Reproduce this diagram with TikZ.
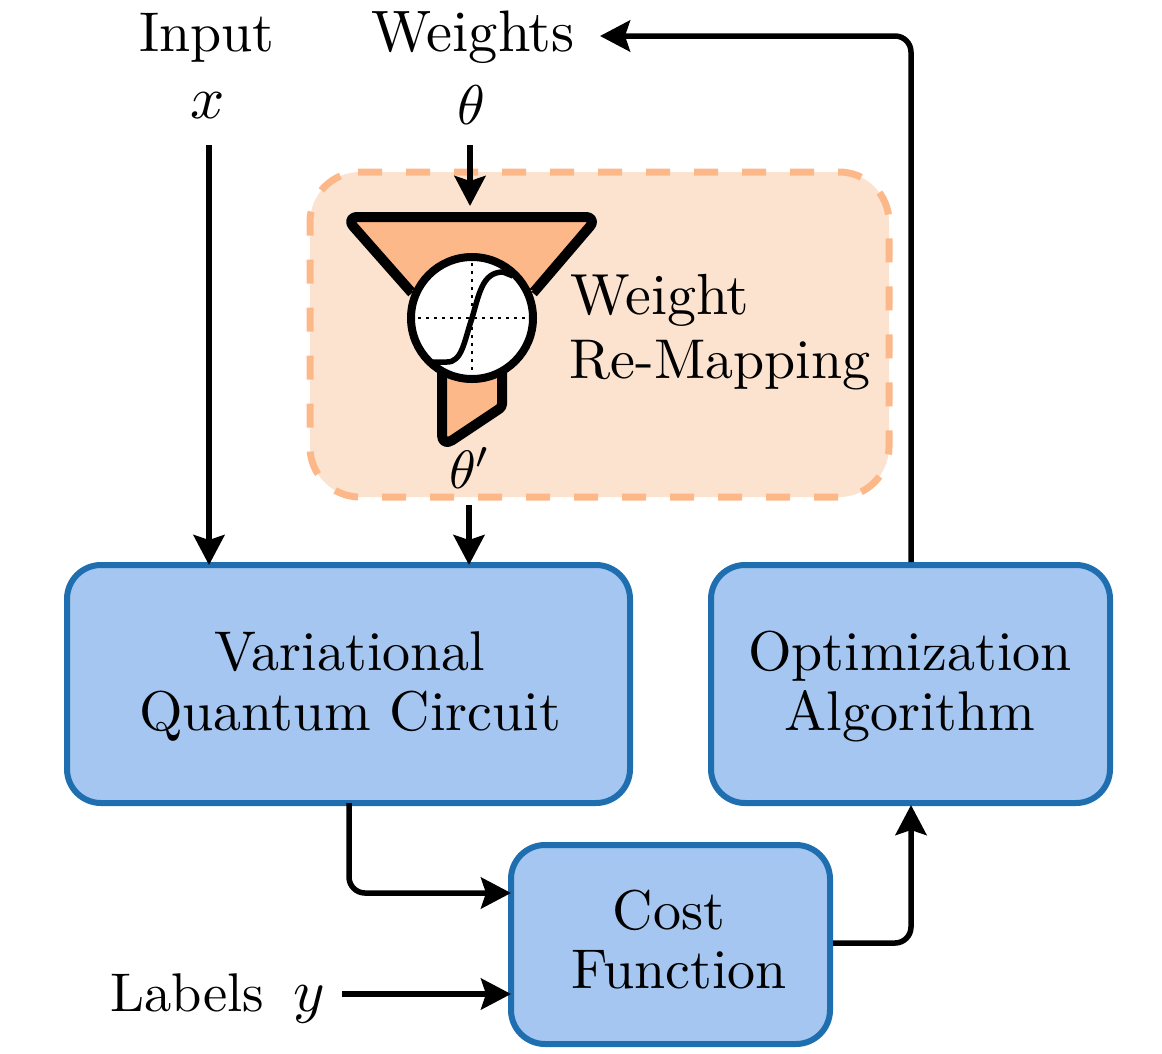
\documentclass[tikz,border=0pt]{standalone}
\usetikzlibrary{arrows.meta,calc}
\definecolor{boxfill}{HTML}{A4C6F0}
\definecolor{boxline}{HTML}{1F6FB0}
\definecolor{mapfill}{HTML}{FBE3D0}
\definecolor{mapline}{HTML}{FDB88A}
\begin{document}
\begin{tikzpicture}[x=1pt,y=-1pt,
  every node/.style={inner sep=0pt,outer sep=0pt},
  lab/.style={anchor=base,scale=5.6},
  bluebox/.style={draw=boxline,fill=boxfill,line width=6pt,rounded corners=34pt,minimum width=#1},
  conn/.style={line width=5.5pt,rounded corners=16pt,-{Stealth[length=30pt,width=31pt,inset=5pt]}},
  funnel/.style={draw=black,line width=10pt,line join=round,fill=mapline}]
\useasboundingbox (0,0) rectangle (1162,1053);
% blocks
\node[bluebox=563pt,minimum height=238pt] (vqc) at (348.5,684) {};
\node[bluebox=399pt,minimum height=238pt] (opt) at (910.5,684) {};
\node[bluebox=319pt,minimum height=199pt] (cost) at (670.5,944.5) {};
\node[fill=mapfill,rounded corners=50pt,minimum width=579pt,minimum height=325pt] (map) at (599.5,334.5) {};
\draw[draw=mapline,line width=7pt,dash pattern=on 24pt off 24pt,rounded corners=50pt]
  (358,172) -- (map.north east) -- (map.south east) -- (map.south west) -- (map.north west) -- (382,172);
% funnel
\draw[funnel,rounded corners=13pt] (412,293) -- (345,217) -- (598,217) -- (533,293);
\fill[mapline] (412,290) -- (533,290) -- (472,330) -- cycle;
\draw[funnel] (442,370) [rounded corners=12pt] -- (442,447) [rounded corners=3pt] -- (502,407) [sharp corners] -- (502,370);
\node[circle,draw=black,fill=white,line width=8pt,minimum size=122pt] (sig) at (472,318) {};
\draw[line width=2pt,dash pattern=on 2.5pt off 5.5pt] (418,318) -- (527,318) (472,263) -- (472,373);
\draw[line width=5.5pt] (431,362) -- (447,362) .. controls (462,362) and (464,342) .. (472,318) .. controls (479,295) and (482,272) .. (503,272) -- (513,276);
% labels
\node[lab] (tinput) at (207,51) {Input};
\node[lab,scale=5.85/5.6] (tweights) at (473,51) {Weights};
\node[lab,scale=6/5.6] (tx) at (208,118) {$x$};
\node[lab] (ttheta) at (471,124) {$\theta$};
\node[lab,scale=5.4/5.6] (tthetap) at (470,488) {$\theta'$};
\node[lab,scale=5.8/5.6] (tw1) at (660,314) {Weight};
\node[lab] (tw2) at (720,378) {Re-Mapping};
\node[lab] (tv1) at (350,670) {Variational};
\node[lab] (tv2) at (350,730) {Quantum Circuit};
\node[lab] (to1) at (910,670) {Optimization};
\node[lab] (to2) at (910,730) {Algorithm};
\node[lab] (tc1) at (669,929) {Cost};
\node[lab] (tc2) at (679,988) {Function};
\node[lab,scale=5.45/5.6] (tl) at (187,1011) {Labels};
\node[lab,scale=6/5.6] (ty) at (309,1011) {$y$};
% connectors
\coordinate (inx) at (209,145);
\coordinate (inth) at (470,145);
\coordinate (thtop) at (470,206);
\coordinate (outth) at (469,505);
\coordinate (wend) at (600,36);
\coordinate (optup) at (911,562);
\coordinate (vqcdn) at (349,803);
\coordinate (lstart) at (342,994);
\coordinate (costr) at (833,943);
\coordinate (optdn) at (911,805);
\draw[conn] (inx) -- (inx |- vqc.north);
\draw[conn] (inth) -- (thtop);
\draw[conn] (outth) -- (outth |- vqc.north);
\draw[conn] (optup) |- (wend);
\draw[conn] (vqcdn) |- (cost.west |- 0,893);
\draw[conn] (lstart) -- (lstart -| cost.west);
\draw[conn] (costr) -| (optdn);
\end{tikzpicture}
\end{document}
